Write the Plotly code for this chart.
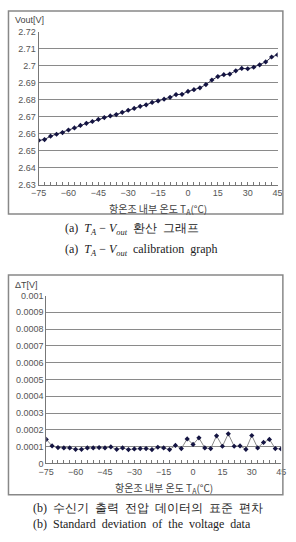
import plotly.graph_objects as go

temps = list(range(-75, 46, 3))
vout = [2.6560, 2.6565, 2.6585, 2.6596, 2.6606, 2.6621, 2.6633, 2.6648, 2.6660, 2.6671,
        2.6683, 2.6694, 2.6704, 2.6712, 2.6725, 2.6737, 2.6748, 2.6760, 2.6769, 2.6783,
        2.6792, 2.6802, 2.6813, 2.6829, 2.6831, 2.6848, 2.6858, 2.6869, 2.6888, 2.6915,
        2.6935, 2.6946, 2.6950, 2.6969, 2.6983, 2.6981, 2.6990, 2.7004, 2.7021, 2.7050,
        2.7063]
stdev = [0.000143, 0.000104, 0.000094, 0.000092, 0.000092, 0.000084, 0.000084, 0.000092,
         0.000092, 0.000094, 0.000092, 0.000098, 0.000084, 0.000092, 0.000082, 0.000086,
         0.000088, 0.000088, 0.000082, 0.000096, 0.000092, 0.000082, 0.000107, 0.000088,
         0.000146, 0.000113, 0.000152, 0.000092, 0.000088, 0.000164, 0.000102, 0.000176,
         0.000102, 0.000104, 0.000084, 0.000166, 0.000092, 0.000125, 0.000143, 0.000088,
         0.000086]
xticks = [-75, -60, -45, -30, -15, 0, 15, 30, 45]
y1ticks = [2.63, 2.64, 2.65, 2.66, 2.67, 2.68, 2.69, 2.7, 2.71, 2.72]
y1labels = ["2.63", "2.64", "2.65", "2.66", "2.67", "2.68", "2.69", "2.7", "2.71", "2.72"]
y2ticks = [0, 0.0001, 0.0002, 0.0003, 0.0004, 0.0005, 0.0006, 0.0007, 0.0008, 0.0009, 0.001]
y2labels = ["0", "0.0001", "0.0002", "0.0003", "0.0004", "0.0005", "0.0006", "0.0007",
            "0.0008", "0.0009", "0.001"]

W, H = 296, 542
def px(x): return x / W
def py(y): return 1 - y / H

font = dict(family="Noto Sans CJK KR, Noto Sans, sans-serif", size=9, color="#555")
marker = dict(symbol="diamond", size=4, color="#141442")

fig = go.Figure()
fig.add_trace(go.Scatter(x=temps, y=vout, mode="lines+markers", xaxis="x", yaxis="y",
                         line=dict(color="#303050", width=1), marker=marker, showlegend=False))
fig.add_trace(go.Scatter(x=temps, y=stdev, mode="lines+markers", xaxis="x2", yaxis="y2",
                         line=dict(color="#888", width=1), marker=marker, showlegend=False))

xcommon = dict(range=[-75, 45], tickvals=xticks, ticks="inside", ticklen=3, tickcolor="#777",
               showgrid=False, showline=True, linecolor="#777", linewidth=1, zeroline=False,
               tickfont=dict(size=9, color="#555", family="Liberation Sans, Arial"),
               minor=dict(dtick=3, tick0=-75, ticks="inside", ticklen=3, tickcolor="#777", showgrid=False),
               mirror=False, fixedrange=True)
ycommon = dict(showgrid=True, gridcolor="#8a8a8a", gridwidth=1, showline=True, linecolor="#777",
               zeroline=False, ticks="", tickfont=dict(size=9, color="#555", family="Liberation Sans, Arial"),
               fixedrange=True)

fig.update_layout(
    width=W, height=H, margin=dict(l=0, r=0, t=0, b=0),
    paper_bgcolor="white", plot_bgcolor="white", font=font,
    xaxis=dict(domain=[px(32), px(282)], anchor="y", **xcommon),
    yaxis=dict(domain=[py(183), py(27)], anchor="x", range=[2.63, 2.72],
               tickvals=y1ticks, ticktext=y1labels, **ycommon),
    xaxis2=dict(domain=[px(40), px(285.7)], anchor="y2", **xcommon),
    yaxis2=dict(domain=[py(467), py(296)], anchor="x2", range=[0, 0.001],
                tickvals=y2ticks, ticktext=y2labels, **ycommon),
)

shapes = [
    dict(type="rect", xref="paper", yref="paper", x0=px(0.5), x1=px(287.5), y0=py(213), y1=py(6),
         line=dict(color="#888", width=1.5)),
    dict(type="rect", xref="paper", yref="paper", x0=px(0.5), x1=px(287.5), y0=py(499), y1=py(275),
         line=dict(color="#888", width=1.5)),
]
fig.update_layout(shapes=shapes)

ann = []
def label(x, y, text, size=9, color="#444", family="Noto Sans CJK KR, sans-serif", xanchor="left"):
    ann.append(dict(xref="paper", yref="paper", x=px(x), y=py(y), text=text, showarrow=False,
                    xanchor=xanchor, yanchor="middle", font=dict(size=size, color=color, family=family)))

label(5, 15, "Vout[V]", size=9, family="Liberation Sans, Arial")
label(5, 285, "ΔT[V]", size=9, family="Liberation Sans, Arial")
label(157, 208, "항온조 내부 온도 T<sub>A</sub>(°C)", size=10, xanchor="center")
label(163, 492, "항온조 내부 온도 T<sub>A</sub>(°C)", size=10, xanchor="center")
serif = "Liberation Serif, Noto Serif, serif"
label(58, 228, "(a)  <i>T<sub>A</sub></i> − <i>V<sub>out</sub></i>  환산  그래프", size=12, color="#222", family=serif)
label(58, 250, "(a)  <i>T<sub>A</sub></i> − <i>V<sub>out</sub></i>  calibration  graph", size=12, color="#222", family=serif)
label(24, 512, "(b)  수신기  출력  전압  데이터의  표준  편차", size=12, color="#222", family=serif)
label(24, 529, "(b)  Standard  deviation  of  the  voltage  data", size=12, color="#222", family=serif)
fig.update_layout(annotations=ann)

fig.write_html("out.html")
